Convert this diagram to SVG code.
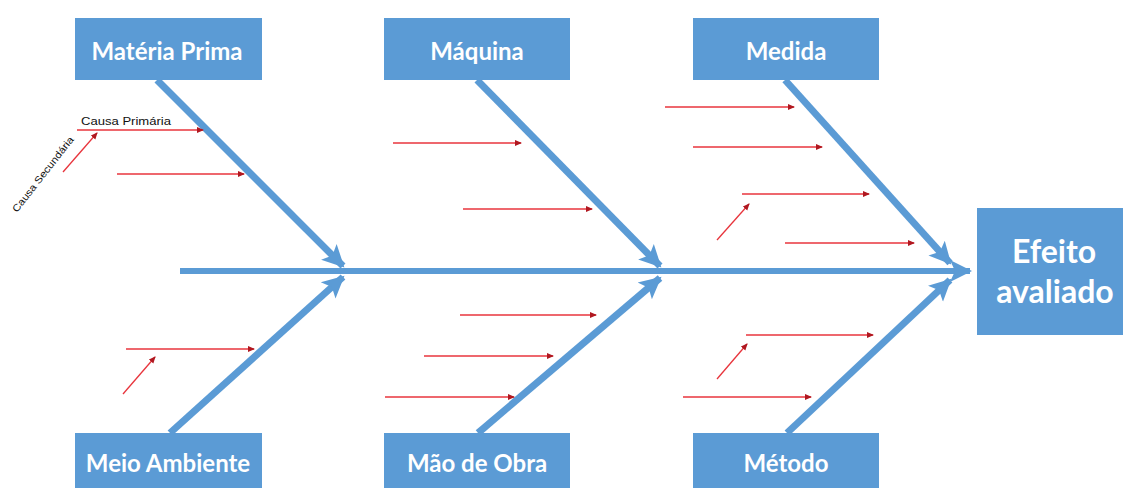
<svg xmlns="http://www.w3.org/2000/svg" width="1123" height="488" viewBox="0 0 1123 488">
<style>
.box{fill:#5b9bd5;}
.lbl{font-family:Lato,"Open Sans","Liberation Sans",sans-serif;font-weight:bold;fill:#ffffff;text-anchor:middle;}
.bone{stroke:#5b9bd5;stroke-width:7;fill:none;}
.spine{stroke:#5b9bd5;stroke-width:6;fill:none;}
.cause{stroke:#e8343c;stroke-width:1.3;fill:none;}
.small{font-family:"Liberation Sans",Arial,sans-serif;fill:#111111;}
</style>
<defs>
<marker id="bigHead" markerUnits="userSpaceOnUse" markerWidth="24" markerHeight="24" viewBox="0 0 24 24" refX="20" refY="12" orient="auto">
<path d="M0,1 L22,12 L0,23 L5,12 Z" fill="#5b9bd5"/>
</marker>
<marker id="redHead" markerUnits="userSpaceOnUse" markerWidth="7" markerHeight="7" viewBox="0 0 7 7" refX="6" refY="3.5" orient="auto">
<path d="M0,0.5 L7,3.5 L0,6.5 Z" fill="#b01820"/>
</marker>
</defs>
<rect width="1123" height="488" fill="#ffffff"/>

<g id="connectors">
<line class="spine" x1="180" y1="271" x2="970" y2="271" marker-end="url(#bigHead)"/>
<line class="bone" x1="157" y1="80" x2="343" y2="266" marker-end="url(#bigHead)"/>
<line class="bone" x1="477" y1="80" x2="660" y2="266" marker-end="url(#bigHead)"/>
<line class="bone" x1="785" y1="80" x2="950" y2="263" marker-end="url(#bigHead)"/>
<line class="bone" x1="170" y1="433" x2="343" y2="277" marker-end="url(#bigHead)"/>
<line class="bone" x1="478" y1="433" x2="660" y2="278" marker-end="url(#bigHead)"/>
<line class="bone" x1="787" y1="433" x2="950" y2="280" marker-end="url(#bigHead)"/>

<line class="cause" x1="77" y1="130" x2="203" y2="130" marker-end="url(#redHead)"/>
<line class="cause" x1="63" y1="172" x2="97" y2="133" marker-end="url(#redHead)"/>
<line class="cause" x1="117" y1="174" x2="244" y2="174" marker-end="url(#redHead)"/>
<line class="cause" x1="393" y1="143" x2="521" y2="143" marker-end="url(#redHead)"/>
<line class="cause" x1="463" y1="209" x2="592" y2="209" marker-end="url(#redHead)"/>
<line class="cause" x1="665" y1="107" x2="794" y2="107" marker-end="url(#redHead)"/>
<line class="cause" x1="693" y1="147" x2="822" y2="147" marker-end="url(#redHead)"/>
<line class="cause" x1="742" y1="194" x2="869" y2="194" marker-end="url(#redHead)"/>
<line class="cause" x1="717" y1="240" x2="749" y2="204" marker-end="url(#redHead)"/>
<line class="cause" x1="785" y1="243" x2="914" y2="243" marker-end="url(#redHead)"/>
<line class="cause" x1="126" y1="349" x2="254" y2="349" marker-end="url(#redHead)"/>
<line class="cause" x1="123" y1="394" x2="155" y2="357" marker-end="url(#redHead)"/>
<line class="cause" x1="460" y1="315" x2="596" y2="315" marker-end="url(#redHead)"/>
<line class="cause" x1="424" y1="356" x2="553" y2="356" marker-end="url(#redHead)"/>
<line class="cause" x1="385" y1="397" x2="514" y2="397" marker-end="url(#redHead)"/>
<line class="cause" x1="746" y1="335" x2="873" y2="335" marker-end="url(#redHead)"/>
<line class="cause" x1="717" y1="379" x2="747" y2="344" marker-end="url(#redHead)"/>
<line class="cause" x1="683" y1="397" x2="811" y2="397" marker-end="url(#redHead)"/>

<text class="small" x="81" y="125" font-size="11" textLength="90" lengthAdjust="spacingAndGlyphs">Causa Primária</text>
<text class="small" font-size="10" textLength="93" lengthAdjust="spacingAndGlyphs" transform="translate(17,213) rotate(-52)" x="0" y="0">Causa Secundária</text>
</g>

<g id="materia-prima">
<rect class="box" x="75" y="18" width="187" height="62"/>
<text class="lbl" x="167" y="60" font-size="24">Matéria Prima</text>
</g>
<g id="maquina">
<rect class="box" x="384" y="18" width="186" height="62"/>
<text class="lbl" x="477" y="60" font-size="24">Máquina</text>
</g>
<g id="medida">
<rect class="box" x="693" y="18" width="186" height="62"/>
<text class="lbl" x="786" y="60" font-size="24">Medida</text>
</g>
<g id="meio-ambiente">
<rect class="box" x="75" y="433" width="187" height="62"/>
<text class="lbl" x="168" y="472" font-size="24">Meio Ambiente</text>
</g>
<g id="mao-de-obra">
<rect class="box" x="384" y="433" width="186" height="62"/>
<text class="lbl" x="477" y="472" font-size="24">Mão de Obra</text>
</g>
<g id="metodo">
<rect class="box" x="693" y="433" width="186" height="62"/>
<text class="lbl" x="786" y="472" font-size="24">Método</text>
</g>
<g id="efeito-avaliado">
<rect class="box" x="977" y="208" width="150" height="127"/>
<text class="lbl" x="1054" y="263" font-size="32">Efeito</text>
<text class="lbl" x="1055" y="303" font-size="32">avaliado</text>
</g>
</svg>
